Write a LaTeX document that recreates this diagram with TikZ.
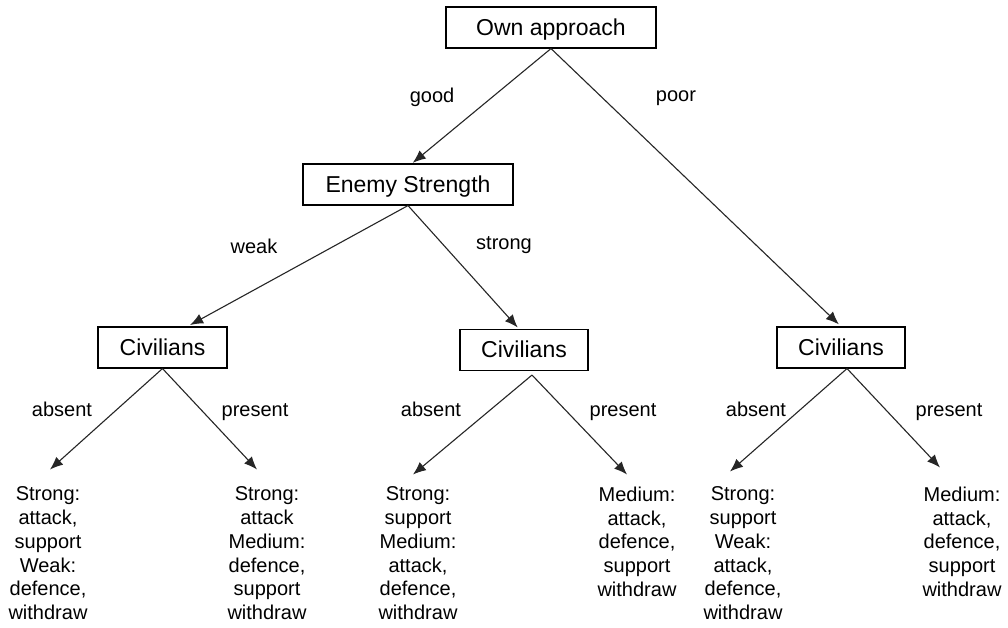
\documentclass[tikz,border=0pt]{standalone}
\usepackage{fontspec}
\setmainfont{Liberation Sans}
\usetikzlibrary{arrows.meta}
\tikzset{
  box/.style={draw=black, line width=1.1pt, fill=white, minimum height=41pt, inner xsep=0pt, inner ysep=0pt, text height=18pt, text depth=3pt, font=\fontsize{23}{27}\selectfont},
  lbl/.style={font=\fontsize{20}{24}\selectfont, inner sep=0pt, anchor=base},
  leaf/.style={font=\fontsize{20}{23.8}\selectfont, align=center, inner sep=0pt, anchor=north},
  conn/.style={draw=black!85, line width=1.1pt, -{Latex[length=13pt,width=10.5pt]}}
}
\begin{document}
\begin{tikzpicture}[x=1pt,y=-1pt]
\useasboundingbox[fill=white] (0,0) rectangle (1008,627);
% boxes
\node[box, minimum width=210pt] (oa) at (551,27.5) {Own approach};
\node[box, minimum width=210pt] (es) at (408,184.5) {Enemy Strength};
\node[box, minimum width=129pt] (c1) at (162.5,347.5) {Civilians};
\node[box, minimum width=128pt] (c2) at (524,350) {Civilians};
\node[box, minimum width=128pt] (c3) at (841,347.5) {Civilians};
% leaves
\node[leaf] (l1) at (48,486.5) {Strong:\\attack,\\support\\Weak:\\defence,\\withdraw};
\node[leaf] (l2) at (267,486.5) {Strong:\\attack\\Medium:\\defence,\\support\\withdraw};
\node[leaf] (l3) at (418,486.5) {Strong:\\support\\Medium:\\attack,\\defence,\\withdraw};
\node[leaf] (l4) at (637,486.5) {Medium:\\attack,\\defence,\\support\\withdraw};
\node[leaf] (l5) at (743,486.5) {Strong:\\support\\Weak:\\attack,\\defence,\\withdraw};
\node[leaf] (l6) at (962,486.5) {Medium:\\attack,\\defence,\\support\\withdraw};
% edge labels
\node[lbl] (t1) at (432,102) {good};
\node[lbl] (t2) at (676,101) {poor};
\node[lbl] (t3) at (254,253) {weak};
\node[lbl] (t4) at (504,249) {strong};
\node[lbl] (t5) at (62,416) {absent};
\node[lbl] (t6) at (255,416) {present};
\node[lbl] (t7) at (431,416) {absent};
\node[lbl] (t8) at (623,416) {present};
\node[lbl] (t9) at (756,416) {absent};
\node[lbl] (t10) at (949,416) {present};
% connectors
\draw[conn, shorten >=1pt] (oa.south) -- ([xshift=4pt]es.north);
\draw[conn, shorten >=3pt] (oa.south) -- (c3.north);
\draw[conn, shorten >=3pt] (es.south) -- ([xshift=25pt]c1.north);
\draw[conn, shorten >=2pt] (es.south) -- ([xshift=-5pt]c2.north);
\draw[conn] (c1.south) -- ([xshift=2pt,yshift=17pt]l1.north);
\draw[conn] (c1.south) -- ([xshift=-10pt,yshift=17pt]l2.north);
\draw[conn] ([xshift=8pt,yshift=-4pt]c2.south) -- ([xshift=-5pt,yshift=12pt]l3.north);
\draw[conn] ([xshift=8pt,yshift=-4pt]c2.south) -- ([xshift=-10pt,yshift=12pt]l4.north);
\draw[conn] ([xshift=6pt]c3.south) -- ([xshift=-13pt,yshift=15pt]l5.north);
\draw[conn] ([xshift=6pt]c3.south) -- ([xshift=-22pt,yshift=19pt]l6.north);
\end{tikzpicture}
\end{document}
